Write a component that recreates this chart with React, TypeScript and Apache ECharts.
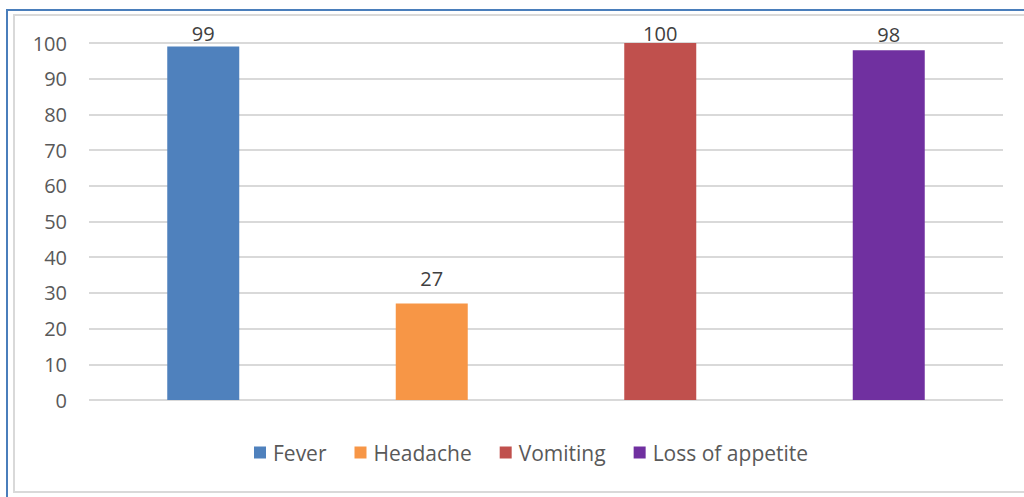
import React, { useEffect, useRef } from "react";
import * as echarts from "echarts";

const categories = ["Fever", "Headache", "Vomiting", "Loss of appetite"];
const values = [99, 27, 100, 98];
const colors = ["#4f81bd", "#f79646", "#c0504d", "#7030a0"];
const labelDistances = [3, 15, 0, 6];
const yTicks = { min: 0, max: 100, interval: 10 };

export default function App() {
  const ref = useRef<HTMLDivElement>(null);
  useEffect(() => {
    if (!ref.current) return;
    const chart = echarts.init(ref.current, null, { renderer: "svg" });
    const series = categories.map((name, i) => ({
      name,
      type: "bar",
      stack: "all",
      barWidth: 72,
      itemStyle: { color: colors[i] },
      label: {
        show: true,
        position: "top",
        color: "#404040",
        fontSize: 20,
        fontFamily: "Open Sans",
        distance: labelDistances[i],
      },
      data: categories.map((_, j) => (j === i ? values[i] : "-")),
    }));
    chart.setOption({
      animation: false,
      backgroundColor: "#ffffff",
      grid: { left: 89, right: 21, top: 43, bottom: 97 },
      xAxis: {
        type: "category",
        data: categories,
        axisLabel: { show: false },
        axisTick: { show: false },
        axisLine: { show: false },
      },
      yAxis: {
        type: "value",
        min: yTicks.min,
        max: yTicks.max,
        interval: yTicks.interval,
        axisLabel: {
          color: "#595959",
          fontSize: 20,
          fontFamily: "Open Sans",
          margin: 22,
        },
        splitLine: { lineStyle: { color: "#d9d9d9", width: 2 } },
        axisLine: { show: false },
        axisTick: { show: false },
      },
      legend: {
        data: categories,
        top: 437,
        left: 249,
        itemWidth: 12,
        itemHeight: 12,
        itemGap: 28,
        icon: "rect",
        textStyle: {
          color: "#595959",
          fontSize: 21,
          fontFamily: "Open Sans",
          padding: [0, 0, 0, 2],
        },
      },
      graphic: [
        {
          type: "rect",
          shape: { x: 7, y: 10, width: 1040, height: 500 },
          style: { fill: "none", stroke: "#4a7ebb", lineWidth: 2 },
          silent: true,
        },
        {
          type: "rect",
          shape: { x: 14, y: 15, width: 1030, height: 477 },
          style: { fill: "none", stroke: "#d9d9d9", lineWidth: 2 },
          silent: true,
        },
      ],
      series,
    });
    return () => chart.dispose();
  }, []);
  return (
    <div
      ref={ref}
      style={{ position: "fixed", left: 0, top: 0, width: 1024, height: 497 }}
    />
  );
}
